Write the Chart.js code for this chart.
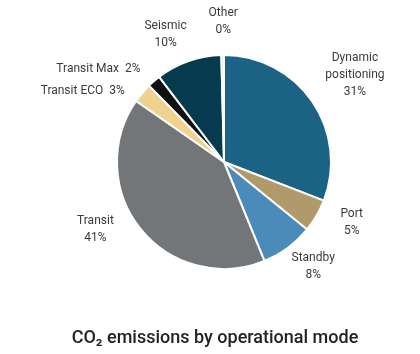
<!DOCTYPE html>
<html>
<head>
<meta charset="utf-8">
<script src="https://cdn.jsdelivr.net/npm/chart.js@4.4.1/dist/chart.umd.min.js"></script>
<style>
  html, body { margin: 0; padding: 0; background: #fff; }
  #wrap { width: 420px; height: 354px; }
</style>
</head>
<body>
<div id="wrap"><canvas id="modeChart" width="420" height="354"></canvas></div>
<script>
// operating modes, clockwise from 12 o'clock
const modes = ['Dynamic positioning', 'Port', 'Standby', 'Transit', 'Transit ECO', 'Transit Max', 'Seismic', 'Other'];
// share of CO2 emissions (%)
const shares = [31, 5, 8, 41, 3, 2, 10, 0.4];
const sliceColors = ['#1b6384', '#b09a6b', '#4a8bb9', '#737678', '#f0d28f', '#111111', '#063a4f', '#d5d9dc'];
const chartTitle = 'CO\u2082 emissions by operational mode';

// how each label is split into lines
const labelLines = [
    ['Dynamic', 'positioning'],
    ['Port'],
    ['Standby'],
    ['Transit'],
    null,
    null,
    ['Seismic'],
    ['Other'],
];

// nudge of each label away from its radial spot
const labelNudge = [[13, -6], [4, -11], [4, -10], [-17, -22], [-32, 21], [-32, 15], [-11, 7], [1, 2]];

const outsideLabels = {
    id: 'outsideLabels',
    afterDraw(chart) {
        const ctx = chart.ctx;
        const arcs = chart.getDatasetMeta(0).data;
        ctx.save();
        ctx.font = '12px Roboto';
        ctx.fillStyle = '#3a3a3a';
        ctx.textAlign = 'center';
        ctx.textBaseline = 'middle';
        arcs.forEach((arc, i) => {
            const mid = (arc.startAngle + arc.endAngle) / 2;
            const r = arc.outerRadius + 36;
            const x = arc.x + Math.cos(mid) * r + labelNudge[i][0];
            const y = arc.y + Math.sin(mid) * r + labelNudge[i][1];
            const pct = Math.round(shares[i]) + '%';
            let lines = labelLines[i] ? labelLines[i].concat([pct]) : [modes[i] + '  ' + pct];
            const lh = 17;
            const top = y - (lines.length - 1) * lh / 2;
            lines.forEach((t, k) => ctx.fillText(t, x, top + k * lh));
        });

        // caption under the pie
        ctx.font = '500 18px Roboto';
        ctx.fillStyle = '#222222';
        ctx.fillText(chartTitle, 215, 338);
        ctx.restore();
    }
};

function renderChart() {
    const ctx = document.querySelector('#modeChart').getContext('2d');
    new Chart(ctx, {
        type: 'pie',
        data: {
            labels: modes,
            datasets: [{
                data: shares,
                backgroundColor: sliceColors,
                borderColor: '#ffffff',
                borderWidth: 2,
            }]
        },
        options: {
            responsive: false,
            animation: false,
            layout: {
                padding: { top: 54, left: 28, right: 0, bottom: 84 }
            },
            plugins: {
                legend: { display: false },
                tooltip: { enabled: false },
                title: { display: false }
            }
        },
        plugins: [outsideLabels]
    });
}

document.addEventListener('DOMContentLoaded', renderChart);
</script>
</body>
</html>
